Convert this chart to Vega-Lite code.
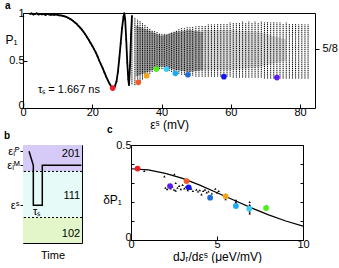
{
  "$schema": "https://vega.github.io/schema/vega-lite/v6.json",
  "padding": {"left": 3, "top": 0, "right": 0, "bottom": 0},
  "bounds": "flush",
  "spacing": 37,
  "config": {
    "font": "Liberation Sans",
    "view": {"stroke": "black", "strokeWidth": 1},
    "axis": {"labelFontSize": 11, "titleFontSize": 12, "titleFontWeight": "normal", "labelColor": "black", "titleColor": "black", "tickColor": "black", "domain": false, "grid": false, "labelFont": "Liberation Sans", "titleFont": "Liberation Sans"},
    "title": {"fontSize": 10, "fontWeight": "bold", "anchor": "start", "frame": "group", "font": "Liberation Sans"}
  },
  "datasets": {
    "curveA": [
      {"x": 2, "y": 0.99}, {"x": 2.5, "y": 0.995}, {"x": 3, "y": 0.985}, {"x": 3.5, "y": 0.99}, {"x": 4, "y": 0.995}, {"x": 4.5, "y": 0.985}, {"x": 5, "y": 0.99}, {"x": 5.5, "y": 0.985}, {"x": 6, "y": 0.99}, {"x": 6.5, "y": 0.98}, {"x": 7, "y": 0.99}, {"x": 7.5, "y": 0.985}, {"x": 8, "y": 0.98}, {"x": 8.5, "y": 0.985}, {"x": 9, "y": 0.98}, {"x": 9.5, "y": 0.985}, {"x": 10, "y": 0.98}, {"x": 10.5, "y": 0.975}, {"x": 11, "y": 0.975}, {"x": 11.5, "y": 0.97}, {"x": 12, "y": 0.965}, {"x": 12.5, "y": 0.96}, {"x": 13, "y": 0.95}, {"x": 13.5, "y": 0.94}, {"x": 14, "y": 0.93}, {"x": 14.5, "y": 0.915}, {"x": 15, "y": 0.9}, {"x": 15.5, "y": 0.885}, {"x": 16, "y": 0.865}, {"x": 16.5, "y": 0.845}, {"x": 17, "y": 0.825}, {"x": 17.5, "y": 0.8}, {"x": 18, "y": 0.775}, {"x": 18.5, "y": 0.745}, {"x": 19, "y": 0.715}, {"x": 19.5, "y": 0.685}, {"x": 20, "y": 0.655}, {"x": 20.5, "y": 0.62}, {"x": 21, "y": 0.585}, {"x": 21.5, "y": 0.545}, {"x": 22, "y": 0.5}, {"x": 22.5, "y": 0.46}, {"x": 23, "y": 0.42}, {"x": 23.5, "y": 0.375}, {"x": 24, "y": 0.33}, {"x": 24.5, "y": 0.29}, {"x": 25, "y": 0.255}, {"x": 25.5, "y": 0.225}, {"x": 26, "y": 0.21}, {"x": 26.5, "y": 0.225}, {"x": 27, "y": 0.28}, {"x": 27.4, "y": 0.38}, {"x": 27.8, "y": 0.52}, {"x": 28.2, "y": 0.68}, {"x": 28.6, "y": 0.84}, {"x": 29, "y": 0.96}, {"x": 29.25, "y": 1.0}, {"x": 29.5, "y": 0.93}, {"x": 29.8, "y": 0.72}, {"x": 30.1, "y": 0.48}, {"x": 30.4, "y": 0.3}, {"x": 30.6, "y": 0.24}, {"x": 30.9, "y": 0.45}, {"x": 31.2, "y": 0.78}, {"x": 31.45, "y": 0.97}
    ],
    "osc": [
      {"x": 31.45, "lo": 0.25, "hi": 0.97}, {"x": 32.3, "lo": 0.24, "hi": 0.95}, {"x": 33.1, "lo": 0.26, "hi": 0.93}, {"x": 33.8, "lo": 0.28, "hi": 0.92}, {"x": 34.5, "lo": 0.3, "hi": 0.9}, {"x": 35.2, "lo": 0.32, "hi": 0.88}, {"x": 35.9, "lo": 0.34, "hi": 0.86}, {"x": 36.6, "lo": 0.36, "hi": 0.84}, {"x": 37.3, "lo": 0.38, "hi": 0.82}, {"x": 38.0, "lo": 0.4, "hi": 0.81}, {"x": 38.7, "lo": 0.41, "hi": 0.8}, {"x": 39.4, "lo": 0.41, "hi": 0.79}, {"x": 40.1, "lo": 0.41, "hi": 0.78}, {"x": 40.8, "lo": 0.41, "hi": 0.78}, {"x": 41.5, "lo": 0.4, "hi": 0.78}, {"x": 42.2, "lo": 0.39, "hi": 0.79}, {"x": 42.9, "lo": 0.38, "hi": 0.8}, {"x": 43.6, "lo": 0.37, "hi": 0.81}, {"x": 44.3, "lo": 0.36, "hi": 0.82}, {"x": 45.0, "lo": 0.36, "hi": 0.83}, {"x": 45.8, "lo": 0.35, "hi": 0.84}, {"x": 46.6, "lo": 0.35, "hi": 0.84}, {"x": 47.4, "lo": 0.34, "hi": 0.85}, {"x": 48.2, "lo": 0.34, "hi": 0.85}, {"x": 49.0, "lo": 0.34, "hi": 0.86}, {"x": 49.9, "lo": 0.33, "hi": 0.86}, {"x": 50.8, "lo": 0.33, "hi": 0.87}, {"x": 51.7, "lo": 0.33, "hi": 0.87}, {"x": 52.6, "lo": 0.33, "hi": 0.87}, {"x": 53.5, "lo": 0.33, "hi": 0.88}, {"x": 54.4, "lo": 0.33, "hi": 0.88}, {"x": 55.3, "lo": 0.33, "hi": 0.88}, {"x": 56.2, "lo": 0.33, "hi": 0.89}, {"x": 57.1, "lo": 0.33, "hi": 0.89}, {"x": 58.0, "lo": 0.33, "hi": 0.89}, {"x": 58.9, "lo": 0.33, "hi": 0.89}, {"x": 59.8, "lo": 0.33, "hi": 0.9}, {"x": 60.7, "lo": 0.32, "hi": 0.9}, {"x": 61.6, "lo": 0.32, "hi": 0.9}, {"x": 62.5, "lo": 0.32, "hi": 0.9}, {"x": 63.4, "lo": 0.32, "hi": 0.91}, {"x": 64.3, "lo": 0.32, "hi": 0.9}, {"x": 65.2, "lo": 0.32, "hi": 0.91}, {"x": 66.1, "lo": 0.32, "hi": 0.9}, {"x": 67.0, "lo": 0.32, "hi": 0.91}, {"x": 67.9, "lo": 0.32, "hi": 0.9}, {"x": 68.8, "lo": 0.32, "hi": 0.91}, {"x": 69.7, "lo": 0.31, "hi": 0.9}, {"x": 70.6, "lo": 0.31, "hi": 0.91}, {"x": 71.5, "lo": 0.31, "hi": 0.9}, {"x": 72.4, "lo": 0.31, "hi": 0.91}, {"x": 73.3, "lo": 0.31, "hi": 0.9}, {"x": 74.2, "lo": 0.31, "hi": 0.9}, {"x": 75.1, "lo": 0.31, "hi": 0.89}, {"x": 76.0, "lo": 0.31, "hi": 0.9}, {"x": 76.9, "lo": 0.31, "hi": 0.89}, {"x": 77.8, "lo": 0.31, "hi": 0.89}, {"x": 78.7, "lo": 0.31, "hi": 0.89}, {"x": 79.6, "lo": 0.31, "hi": 0.88}, {"x": 80.5, "lo": 0.31, "hi": 0.89}, {"x": 81.4, "lo": 0.31, "hi": 0.88}, {"x": 82.3, "lo": 0.31, "hi": 0.88}
    ],
    "shadeD": [
      {"x": 32.5, "lo": 0.33, "hi": 0.87}, {"x": 36, "lo": 0.38, "hi": 0.82}, {"x": 40, "lo": 0.44, "hi": 0.76}, {"x": 44, "lo": 0.4, "hi": 0.8}, {"x": 48, "lo": 0.38, "hi": 0.82}, {"x": 52, "lo": 0.4, "hi": 0.8}
    ],
    "shadeL": [
      {"x": 52, "lo": 0.4, "hi": 0.82}, {"x": 60, "lo": 0.4, "hi": 0.82}, {"x": 68, "lo": 0.43, "hi": 0.8}, {"x": 76, "lo": 0.5, "hi": 0.72}
    ],
    "dotsA": [
      {"x": 25.9, "y": 0.21, "k": "k1"}, {"x": 33.3, "y": 0.27, "k": "k2"}, {"x": 35.7, "y": 0.34, "k": "k3"}, {"x": 38.5, "y": 0.41, "k": "k4"}, {"x": 41.4, "y": 0.41, "k": "k5"}, {"x": 44.0, "y": 0.365, "k": "k6"}, {"x": 47.6, "y": 0.35, "k": "k7"}, {"x": 58.0, "y": 0.33, "k": "k8"}, {"x": 73.3, "y": 0.32, "k": "k9"}
    ],
    "dotsC": [
      {"x": 0.38, "y": 0.376, "k": "k1"}, {"x": 3.23, "y": 0.31, "k": "k2"}, {"x": 5.5, "y": 0.23, "k": "k3"}, {"x": 7.85, "y": 0.168, "k": "k4"}, {"x": 6.88, "y": 0.165, "k": "k5"}, {"x": 6.1, "y": 0.179, "k": "k6"}, {"x": 4.6, "y": 0.223, "k": "k7"}, {"x": 3.35, "y": 0.277, "k": "k8"}, {"x": 2.27, "y": 0.284, "k": "k9"}
    ],
    "curveC": [
      {"x": 0, "y": 0.375}, {"x": 1, "y": 0.369}, {"x": 2, "y": 0.351}, {"x": 3, "y": 0.324}, {"x": 4, "y": 0.289}, {"x": 5, "y": 0.249}, {"x": 6, "y": 0.209}, {"x": 7, "y": 0.169}, {"x": 8, "y": 0.132}, {"x": 9, "y": 0.1}, {"x": 10, "y": 0.073}
    ],
    "smallC": [
      {"x": 0.77, "y": 0.363}, {"x": 1.94, "y": 0.335}, {"x": 2.52, "y": 0.346}, {"x": 2.0, "y": 0.275}, {"x": 2.1, "y": 0.268}, {"x": 2.2, "y": 0.29}, {"x": 2.3, "y": 0.272}, {"x": 2.4, "y": 0.28}, {"x": 2.5, "y": 0.265}, {"x": 2.6, "y": 0.3}, {"x": 2.7, "y": 0.275}, {"x": 2.8, "y": 0.285}, {"x": 2.9, "y": 0.268}, {"x": 3.0, "y": 0.29}, {"x": 3.1, "y": 0.272}, {"x": 3.3, "y": 0.262}, {"x": 3.5, "y": 0.27}, {"x": 3.6, "y": 0.258}, {"x": 3.8, "y": 0.265}, {"x": 3.9, "y": 0.255}, {"x": 4.0, "y": 0.262}, {"x": 4.1, "y": 0.24}, {"x": 4.2, "y": 0.258}, {"x": 4.3, "y": 0.265}, {"x": 4.4, "y": 0.25}, {"x": 4.5, "y": 0.255}, {"x": 4.7, "y": 0.245}, {"x": 4.9, "y": 0.27}, {"x": 5.0, "y": 0.25}, {"x": 5.1, "y": 0.258}, {"x": 5.5, "y": 0.24}, {"x": 5.5, "y": 0.215}, {"x": 6.1, "y": 0.21}, {"x": 6.1, "y": 0.2}, {"x": 6.1, "y": 0.19}, {"x": 6.9, "y": 0.2}, {"x": 6.9, "y": 0.185}, {"x": 6.9, "y": 0.15}, {"x": 6.9, "y": 0.14}, {"x": 7.9, "y": 0.18}, {"x": 3.2, "y": 0.28}, {"x": 2.6, "y": 0.26}
    ]
  },
  "vconcat": [
    {
      "width": 292,
      "height": 95,
      "title": {"text": "a", "dx": -18, "dy": 4, "offset": 0},
      "resolve": {"axis": {"y": "independent"}},
      "layer": [
        {
          "data": {"name": "shadeD"},
          "mark": {"type": "area", "opacity": 0.55, "color": "#555555"},
          "encoding": {
            "x": {"field": "x", "type": "quantitative", "scale": {"domain": [0, 84.3], "nice": false},
                  "axis": {"values": [0, 20, 40, 60, 80], "tickSize": -4, "labelPadding": 2, "title": "εˢ (mV)", "titlePadding": 2, "labelFlush": false}},
            "y": {"field": "lo", "type": "quantitative", "scale": {"domain": [0, 1], "nice": false},
                  "axis": {"values": [0, 0.5, 1], "format": "~g", "tickSize": -4, "labelPadding": 3, "labelOffset": {"condition": {"test": "datum.value === 0", "value": -3}, "value": 0}, "title": "P₁", "titleAngle": 0, "titleAlign": "center", "titleBaseline": "middle", "titleX": -12, "titleY": 26, "labelFlush": false}},
            "y2": {"field": "hi"}
          }
        },
        {
          "data": {"name": "shadeL"},
          "mark": {"type": "area", "opacity": 0.35, "color": "#999999"},
          "encoding": {
            "x": {"field": "x", "type": "quantitative"},
            "y": {"field": "lo", "type": "quantitative", "axis": null},
            "y2": {"field": "hi"}
          }
        },
        {
          "data": {"name": "osc"},
          "mark": {"type": "rule", "color": "black", "strokeWidth": 1, "strokeDash": [1.2, 0.7]},
          "encoding": {
            "x": {"field": "x", "type": "quantitative"},
            "y": {"field": "lo", "type": "quantitative", "axis": null},
            "y2": {"field": "hi"}
          }
        },
        {
          "data": {"name": "curveA"},
          "mark": {"type": "line", "color": "black", "strokeWidth": 1.8, "point": {"filled": true, "size": 3, "color": "black"}},
          "encoding": {
            "x": {"field": "x", "type": "quantitative"},
            "y": {"field": "y", "type": "quantitative", "axis": null}
          }
        },
        {
          "data": {"name": "dotsA"},
          "mark": {"type": "circle", "size": 32, "opacity": 1},
          "encoding": {
            "x": {"field": "x", "type": "quantitative"},
            "y": {"field": "y", "type": "quantitative",
                  "axis": {"orient": "right", "values": [0.625], "labelExpr": "'5/8'", "tickSize": 4, "labelPadding": 3, "title": null}},
            "color": {"field": "k", "type": "nominal", "scale": {"domain": ["k1", "k2", "k3", "k4", "k5", "k6", "k7", "k8", "k9"], "range": ["#ec1c24", "#f15a24", "#f7a21b", "#4cf01c", "#38d0f8", "#1aaaf0", "#1c6ed6", "#1414f0", "#5a1cf0"]}, "legend": null}
          }
        },
        {
          "data": {"values": [{"x": 4.3, "y": 0.19, "t": "τₛ = 1.667 ns"}]},
          "mark": {"type": "text", "align": "left", "baseline": "middle", "fontSize": 11, "color": "black"},
          "encoding": {
            "x": {"field": "x", "type": "quantitative"},
            "y": {"field": "y", "type": "quantitative", "axis": null},
            "text": {"field": "t"}
          }
        }
      ]
    },
    {
      "hconcat": [
        {
          "width": 59,
          "height": 98,
          "title": {"text": "b", "dx": -19, "offset": 4},
          "layer": [
            {
              "data": {"values": [{"x": 0, "x2": 100, "y": 73, "y2": 100}]},
              "mark": {"type": "rect", "color": "#d6cbf6"},
              "encoding": {
                "x": {"field": "x", "type": "quantitative", "scale": {"domain": [0, 100], "nice": false},
                      "axis": {"labels": false, "ticks": false, "title": "Time", "titlePadding": 6, "titleFontSize": 11}},
                "x2": {"field": "x2"},
                "y": {"field": "y", "type": "quantitative", "scale": {"domain": [0, 100], "nice": false},
                      "axis": {"values": [93.6, 79.3, 38.5], "labelExpr": "datum.value > 90 ? 'εᵢᴾ' : datum.value > 70 ? 'εᵢᴹ' : 'εˢ'", "tickSize": 3, "labelPadding": 1, "labelOverlap": false, "labelFontSize": 11, "title": null}},
                "y2": {"field": "y2"}
              }
            },
            {
              "data": {"values": [{"x": 0, "x2": 100, "y": 26, "y2": 73}]},
              "mark": {"type": "rect", "color": "#e6fbf7"},
              "encoding": {
                "x": {"field": "x", "type": "quantitative"},
                "x2": {"field": "x2"},
                "y": {"field": "y", "type": "quantitative"},
                "y2": {"field": "y2"}
              }
            },
            {
              "data": {"values": [{"x": 0, "x2": 100, "y": 0, "y2": 26}]},
              "mark": {"type": "rect", "color": "#e2f6c9"},
              "encoding": {
                "x": {"field": "x", "type": "quantitative"},
                "x2": {"field": "x2"},
                "y": {"field": "y", "type": "quantitative"},
                "y2": {"field": "y2"}
              }
            },
            {
              "data": {"values": [{"y": 73}, {"y": 26}]},
              "mark": {"type": "rule", "color": "black", "strokeWidth": 1, "strokeDash": [2, 2]},
              "encoding": {"y": {"field": "y", "type": "quantitative"}}
            },
            {
              "data": {"values": [{"x": 10.2, "y": 93.6, "o": 1}, {"x": 17.5, "y": 79.3, "o": 2}, {"x": 17.5, "y": 38.5, "o": 3}, {"x": 32.7, "y": 38.5, "o": 4}, {"x": 32.7, "y": 79.3, "o": 5}, {"x": 98.8, "y": 79.3, "o": 6}]},
              "mark": {"type": "line", "color": "black", "strokeWidth": 1.5},
              "encoding": {
                "x": {"field": "x", "type": "quantitative"},
                "y": {"field": "y", "type": "quantitative"},
                "order": {"field": "o"}
              }
            },
            {
              "data": {"values": [{"x": 97, "y": 91, "t": "201"}, {"x": 97, "y": 48, "t": "111"}, {"x": 97, "y": 9, "t": "102"}]},
              "mark": {"type": "text", "align": "right", "baseline": "middle", "fontSize": 11, "color": "black"},
              "encoding": {
                "x": {"field": "x", "type": "quantitative"},
                "y": {"field": "y", "type": "quantitative"},
                "text": {"field": "t"}
              }
            },
            {
              "data": {"values": [{"x": 17, "y": 32, "t": "τₛ"}]},
              "mark": {"type": "text", "align": "left", "baseline": "middle", "fontSize": 11, "color": "black"},
              "encoding": {
                "x": {"field": "x", "type": "quantitative"},
                "y": {"field": "y", "type": "quantitative"},
                "text": {"field": "t"}
              }
            }
          ]
        },
        {
          "width": 172,
          "height": 95,
          "title": {"text": "c", "dx": -24, "offset": 4},
          "resolve": {"axis": {"y": "independent"}},
          "layer": [
            {
              "data": {"name": "curveC"},
              "mark": {"type": "line", "color": "black", "strokeWidth": 1.2},
              "encoding": {
                "x": {"field": "x", "type": "quantitative", "scale": {"domain": [0, 10], "nice": false},
                      "axis": {"values": [0, 5, 10], "tickSize": -4, "labelPadding": 2, "title": "dJᵣ/dεˢ (μeV/mV)", "titlePadding": 2, "labelFlush": false}},
                "y": {"field": "y", "type": "quantitative", "scale": {"domain": [0, 0.5], "nice": false},
                      "axis": {"orient": "right", "values": [0, 0.1, 0.2, 0.3, 0.4, 0.5], "tickSize": -3, "labels": false, "title": null}}
              }
            },
            {
              "data": {"name": "smallC"},
              "mark": {"type": "point", "shape": "triangle-up", "filled": true, "size": 6, "color": "black", "opacity": 1},
              "encoding": {
                "x": {"field": "x", "type": "quantitative"},
                "y": {"field": "y", "type": "quantitative",
                      "axis": {"values": [0, 0.1, 0.2, 0.3, 0.4, 0.5], "labelExpr": "datum.value == 0 ? '0' : datum.value == 0.5 ? '0.5' : ''", "tickSize": -3, "labelPadding": 3, "labelOffset": {"condition": {"test": "datum.value === 0", "value": -3}, "value": 0}, "title": "δP₁", "titleAngle": 0, "titleAlign": "center", "titleBaseline": "middle", "titleX": -19, "titleY": 54, "labelFlush": false}}
              }
            },
            {
              "data": {"name": "dotsC"},
              "mark": {"type": "circle", "size": 34, "opacity": 1},
              "encoding": {
                "x": {"field": "x", "type": "quantitative"},
                "y": {"field": "y", "type": "quantitative", "axis": null},
                "color": {"field": "k", "type": "nominal", "scale": {"domain": ["k1", "k2", "k3", "k4", "k5", "k6", "k7", "k8", "k9"], "range": ["#ec1c24", "#f15a24", "#f7a21b", "#4cf01c", "#38d0f8", "#1aaaf0", "#1c6ed6", "#1414f0", "#5a1cf0"]}, "legend": null}
              }
            }
          ]
        }
      ],
      "bounds": "flush",
      "spacing": 49
    }
  ]
}
